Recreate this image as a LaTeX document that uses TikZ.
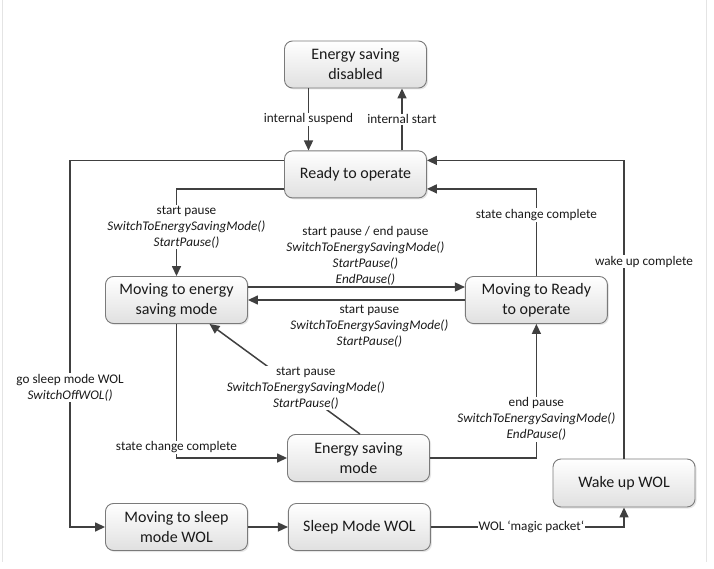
\documentclass[tikz,border=0pt]{standalone}
\usepackage{fontspec}
\setmainfont{Carlito}
\usetikzlibrary{arrows.meta,positioning,shadows}
\definecolor{ink}{HTML}{1A1A1A}
\definecolor{wire}{HTML}{404040}
\definecolor{rim}{HTML}{7A7A7A}
\definecolor{shade}{HTML}{E0E0E0}
\definecolor{rule}{HTML}{E4E4E4}
\tikzset{
  state/.style={draw=rim,line width=0.9pt,rounded corners=8pt,top color=white,bottom color=shade,
    minimum width=142pt,minimum height=47pt,align=center,text=ink,
    font=\fontsize{16}{20}\selectfont,
    drop shadow={shadow xshift=1.5pt,shadow yshift=-1.5pt,opacity=0.2}},
  arr/.style={-{Triangle[length=10pt,width=9pt]},line width=1.5pt,draw=wire},
  lbl/.style={fill=white,inner sep=1pt,align=center,text=ink,font=\fontsize{13.2}{16}\selectfont}}

\begin{document}
\begin{tikzpicture}[x=1pt,y=-1pt]
\useasboundingbox (0,0) rectangle (714,569);
\draw[draw=rule,line width=1pt] (2.5,0) -- (2.5,562) (706.5,0) -- (706.5,562);
% states
\node[state] (dis) at (355.5,64.5) {Energy saving\\disabled};
\node[state,below=62pt of dis] (rdy) {Ready to operate};
\node[state] (mes) at (176.5,300) {Moving to energy\\saving mode};
\node[state,right=217pt of mes] (mro) {Moving to Ready\\to operate};
\node[state] (esm) at (358.5,458) {Energy saving\\mode};
\node[state] (mts) at (176.5,527) {Moving to sleep\\mode WOL};
\node[state,right=40pt of mts] (slp) {Sleep Mode WOL};
\node[state,minimum height=48pt] (wake) at (624,483) {Wake up WOL};
% transitions
\draw[arr] ([xshift=-47pt]dis.south) -- node[lbl]{internal suspend} ([xshift=-47pt]rdy.north);
\draw[arr] ([xshift=46.5pt]rdy.north) -- node[lbl]{internal start} ([xshift=46.5pt]dis.south);
\draw[arr] ([yshift=14pt]rdy.west) -| node[lbl,pos=0.81]{go sleep mode WOL\\\textit{SwitchOffWOL()}} ([xshift=-35pt]mts.west) -- (mts.west);
\draw[arr] ([yshift=-14.5pt]rdy.west) -| node[lbl,pos=0.72,xshift=10pt]{start pause\\\textit{SwitchToEnergySavingMode()}\\\textit{StartPause()}} (mes.north);
\draw[arr] (mro.north) |- node[lbl,pos=0.35]{state change complete} ([yshift=-14.5pt]rdy.east);
\draw[arr] (wake.north) |- node[lbl,pos=0.33,xshift=20pt]{wake up complete} ([yshift=14pt]rdy.east);
\draw[arr] ([yshift=13pt]mes.east) -- node[lbl,above,xshift=9pt]{start pause / end pause\\\textit{SwitchToEnergySavingMode()}\\\textit{StartPause()}\\\textit{EndPause()}} ([yshift=13pt]mro.west);
\draw[arr] (mro.west) -- node[lbl,below=3pt,xshift=13pt]{start pause\\\textit{SwitchToEnergySavingMode()}\\\textit{StartPause()}} (mes.east);
\draw[arr] ([xshift=1.5pt]esm.north) -- node[lbl,pos=0.42,xshift=9pt]{start pause\\\textit{SwitchToEnergySavingMode()}\\\textit{StartPause()}} ([xshift=33pt]mes.south);
\draw[arr] (mes.south) |- node[lbl,pos=0.46]{state change complete} (esm.west);
\draw[arr] (esm.east) -| node[lbl,pos=0.645]{end pause\\\textit{SwitchToEnergySavingMode()}\\\textit{EndPause()}} (mro.south);
\draw[arr] (mts.east) -- (slp.west);
\draw[arr] (slp.east) -| node[lbl,pos=0.26]{WOL ‘magic packet‘} (wake.south);
\end{tikzpicture}
\end{document}
